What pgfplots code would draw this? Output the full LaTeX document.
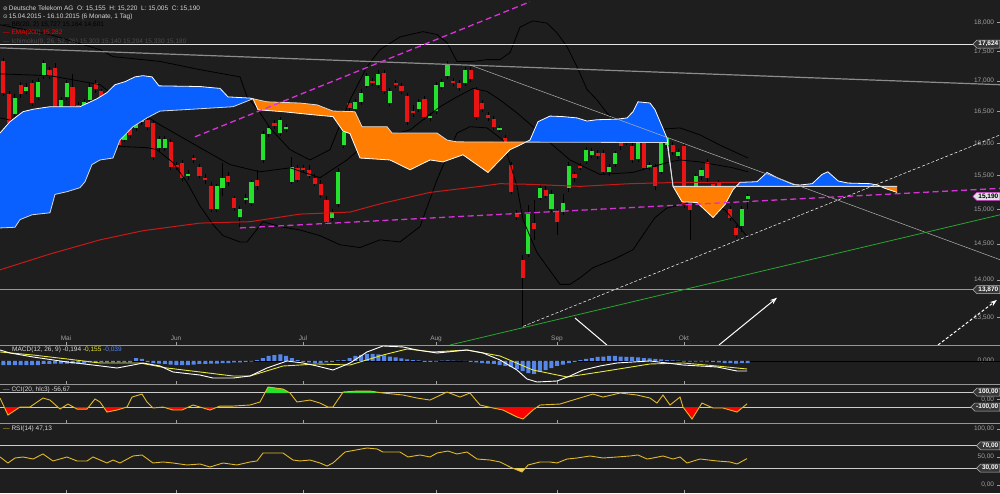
\documentclass[border=0pt]{standalone}
\usepackage{fontspec}
\setmainfont{Liberation Sans}
\newfontfamily\symfont{DejaVu Sans}
\usepackage{pgfplots}
\usepackage{pgfplotstable}
\pgfplotsset{compat=1.18}
\usetikzlibrary{shapes.symbols,arrows.meta}

\definecolor{bg}{RGB}{30,30,30}
\definecolor{cred}{RGB}{235,20,20}
\definecolor{cgreen}{RGB}{35,225,45}
\definecolor{cloudblue}{RGB}{10,95,255}
\definecolor{cloudorange}{RGB}{255,125,0}
\definecolor{emared}{RGB}{200,25,25}
\definecolor{mag}{RGB}{215,50,215}
\definecolor{lblgrey}{RGB}{160,160,160}
\definecolor{sepgrey}{RGB}{150,150,150}
\definecolor{histblue}{RGB}{85,135,235}
\definecolor{gold}{RGB}{225,185,40}
\definecolor{sigyellow}{RGB}{230,230,60}
\definecolor{hdr}{RGB}{215,215,215}
\definecolor{trendgreen}{RGB}{40,165,50}

\pgfplotstableread{
k o h l c
0 17.33 17.39 16.76 16.81
1 16.78 16.83 16.27 16.32
2 16.46 16.78 16.42 16.72
3 16.94 16.99 16.72 16.78
4 16.83 16.96 16.78 16.91
5 16.97 17.02 16.59 16.64
6 16.73 17.05 16.69 16.99
7 17.09 17.36 17.04 17.31
8 17.19 17.24 17.04 17.09
9 17.22 17.31 16.53 16.58
10 16.53 16.74 16.48 16.69
11 16.73 17.02 16.69 16.97
12 16.91 17.11 16.54 16.59
13 16.61 16.66 16.40 16.45
14 16.50 16.71 16.45 16.66
15 16.69 16.96 16.64 16.91
16 16.97 17.02 16.81 16.86
17 16.83 16.86 16.53 16.56
18 16.53 16.56 16.24 16.29
19 16.29 16.34 16.10 16.13
20 16.05 16.10 15.93 15.97
21 16.05 16.26 16.02 16.21
22 16.29 16.34 16.08 16.13
23 16.24 16.42 16.19 16.37
24 16.34 16.50 16.29 16.45
25 16.37 16.42 16.21 16.26
26 16.32 16.37 15.74 15.79
27 15.92 16.12 15.87 16.07
28 15.93 16.12 15.88 16.07
29 16.02 16.07 15.59 15.64
30 15.67 15.71 15.59 15.64
31 15.70 15.74 15.41 15.46
32 15.49 15.58 15.44 15.53
33 15.77 15.82 15.70 15.74
34 15.64 15.68 15.46 15.50
35 15.47 15.52 15.38 15.43
36 15.35 15.40 14.96 15.01
37 15.01 15.38 14.96 15.34
38 15.31 15.70 15.19 15.46
39 15.50 15.55 15.35 15.40
40 15.16 15.20 14.98 15.02
41 14.89 15.05 14.74 15.01
42 15.13 15.22 15.08 15.17
43 15.10 15.44 15.05 15.40
44 15.44 15.59 15.29 15.34
45 15.74 16.19 15.70 16.15
46 16.15 16.29 16.10 16.24
47 16.32 16.37 16.23 16.27
48 16.16 16.42 16.12 16.37
49 16.23 16.31 16.18 16.26
50 15.41 15.79 15.37 15.64
51 15.62 15.67 15.40 15.44
52 15.62 15.67 15.55 15.59
53 15.58 15.67 15.46 15.50
54 15.47 15.52 15.34 15.38
55 15.38 15.43 15.17 15.21
56 15.14 15.19 14.77 14.82
57 14.88 15.01 14.83 14.96
58 15.08 15.62 15.04 15.56
59 15.97 16.23 15.93 16.18
60 16.64 16.69 16.51 16.56
61 16.54 16.71 16.50 16.66
62 16.66 16.86 16.61 16.81
63 16.92 17.14 16.88 17.09
64 17.00 17.05 16.92 16.97
65 16.94 17.19 16.89 17.11
66 17.14 17.19 16.79 16.84
67 16.64 16.88 16.59 16.83
68 16.97 17.02 16.89 16.94
69 16.92 16.97 16.79 16.84
70 16.76 16.81 16.29 16.34
71 16.51 16.61 16.42 16.48
72 16.54 16.71 16.50 16.66
73 16.71 16.76 16.37 16.42
74 16.40 16.48 16.35 16.43
75 16.51 16.99 16.46 16.94
76 16.91 17.04 16.86 16.99
77 17.09 17.33 17.04 17.28
78 17.00 17.05 16.92 16.97
79 16.97 17.02 16.83 16.88
80 16.97 17.24 16.92 17.19
81 17.19 17.24 16.99 17.04
82 16.86 16.91 16.37 16.42
83 16.64 16.69 16.50 16.54
84 16.45 16.50 16.35 16.40
85 16.39 16.43 16.21 16.26
86 16.21 16.27 16.18 16.24
87 16.08 16.13 15.88 15.93
88 15.67 15.71 15.22 15.26
89 14.94 14.99 14.85 14.89
90 14.28 14.35 13.38 14.03
91 14.36 15.07 14.32 14.93
92 14.80 15.14 14.56 14.71
93 15.17 15.37 15.13 15.32
94 15.29 15.34 15.16 15.20
95 15.01 15.29 14.96 15.23
96 14.96 15.01 14.63 14.82
97 14.96 15.22 14.92 15.10
98 15.31 15.71 15.26 15.65
99 15.52 15.56 15.41 15.46
100 15.65 15.70 15.58 15.62
101 15.73 15.94 15.68 15.90
102 15.82 15.93 15.77 15.88
103 15.85 15.90 15.76 15.80
104 15.85 15.90 15.52 15.56
105 15.55 15.68 15.50 15.64
106 15.68 15.88 15.64 15.84
107 16.00 16.04 15.90 15.95
108 16.02 16.21 15.97 16.16
109 15.95 16.00 15.70 15.74
110 15.76 16.04 15.71 16.00
111 16.00 16.04 15.58 15.62
112 15.62 15.71 15.58 15.67
113 15.64 15.68 15.29 15.34
114 15.56 16.05 15.52 16.01
115 15.97 16.13 15.93 16.08
116 15.97 16.02 15.82 15.87
117 15.80 15.91 15.76 15.87
118 15.96 16.01 15.02 15.07
119 15.10 15.14 14.56 14.99
120 15.34 15.53 15.29 15.49
121 15.49 15.62 15.44 15.58
122 15.71 15.76 15.41 15.46
123 15.37 15.41 15.20 15.25
124 15.40 15.44 15.29 15.34
125 15.17 15.22 15.05 15.10
126 15.01 15.05 14.83 14.88
127 14.73 14.77 14.59 14.63
128 14.76 15.05 14.67 15.01
129 15.155 15.22 15.005 15.19
}\candles

% Ichimoku: span A
\pgfplotstableread{
k p
-0.57 16.16
1.16 16.34
3.41 16.50
5.15 16.54
8.09 16.58
13.29 16.58
16.24 16.71
17.97 16.81
19.36 16.94
21.09 16.99
22.82 17.07
24.21 17.09
25.77 17.07
26.98 16.92
34.09 16.91
36.34 16.89
37.56 16.88
38.94 16.74
42.76 16.72
43.28 16.71
44.14 16.53
48.48 16.50
53.68 16.45
57.14 16.42
58.88 16.19
60.09 16.15
61.82 15.77
67.02 15.74
70.49 15.59
73.95 15.74
76.21 15.71
79.67 15.82
84.00 15.55
87.82 15.90
89.03 15.95
91.28 16.05
92.67 16.34
94.75 16.43
97.00 16.42
99.43 16.40
101.16 16.35
102.90 16.37
106.36 16.38
108.10 16.40
109.13 16.50
110.00 16.66
112.08 16.64
112.95 16.53
115.03 16.08
116.07 15.34
117.63 15.11
120.23 15.10
123.00 14.88
125.08 15.07
126.47 15.29
127.68 15.40
130.63 15.41
132.36 15.55
134.10 15.47
136.86 15.37
138.08 15.36
140.20 15.38
141.90 15.52
142.90 15.56
144.70 15.42
146.40 15.39
150.20 15.38
151.50 15.36
152.80 15.31
154.90 15.25
}\spanA

% Ichimoku: span B
\pgfplotstableread{
k p
-0.57 14.73
2.03 14.74
2.89 14.85
4.97 14.92
8.09 14.95
8.96 15.22
11.04 15.26
13.29 15.32
14.16 15.41
15.37 15.67
16.76 15.74
19.01 15.77
20.22 16.05
22.48 16.26
24.90 16.40
27.16 16.51
31.15 16.53
39.81 16.58
43.28 16.71
45.70 16.66
51.42 16.64
54.37 16.61
57.14 16.51
60.95 16.50
62.17 16.26
66.50 16.26
67.37 16.16
75.17 16.16
76.90 16.05
78.63 16.02
115.03 16.01
116.07 15.34
154.90 15.34
}\spanB

% cloud outline: span A forward, then span B backward
\pgfplotstableread{
k p
-0.57 16.16
1.16 16.34
3.41 16.50
5.15 16.54
8.09 16.58
13.29 16.58
16.24 16.71
17.97 16.81
19.36 16.94
21.09 16.99
22.82 17.07
24.21 17.09
25.77 17.07
26.98 16.92
34.09 16.91
36.34 16.89
37.56 16.88
38.94 16.74
42.76 16.72
43.28 16.71
44.14 16.53
48.48 16.50
53.68 16.45
57.14 16.42
58.88 16.19
60.09 16.15
61.82 15.77
67.02 15.74
70.49 15.59
73.95 15.74
76.21 15.71
79.67 15.82
84.00 15.55
87.82 15.90
89.03 15.95
91.28 16.05
92.67 16.34
94.75 16.43
97.00 16.42
99.43 16.40
101.16 16.35
102.90 16.37
106.36 16.38
108.10 16.40
109.13 16.50
110.00 16.66
112.08 16.64
112.95 16.53
115.03 16.08
116.07 15.34
117.63 15.11
120.23 15.10
123.00 14.88
125.08 15.07
126.47 15.29
127.68 15.40
130.63 15.41
132.36 15.55
134.10 15.47
136.86 15.37
138.08 15.36
140.20 15.38
141.90 15.52
142.90 15.56
144.70 15.42
146.40 15.39
150.20 15.38
151.50 15.36
152.80 15.31
154.90 15.25
154.90 15.34
116.07 15.34
115.03 16.01
78.63 16.02
76.90 16.05
75.17 16.16
67.37 16.16
66.50 16.26
62.17 16.26
60.95 16.50
57.14 16.51
54.37 16.61
51.42 16.64
45.70 16.66
43.28 16.71
39.81 16.58
31.15 16.53
27.16 16.51
24.90 16.40
22.48 16.26
20.22 16.05
19.01 15.77
16.76 15.74
15.37 15.67
14.16 15.41
13.29 15.32
11.04 15.26
8.96 15.22
8.09 14.95
4.97 14.92
2.89 14.85
2.03 14.74
-0.57 14.73
}\cloudpoly

\pgfplotstableread{
k p
-0.57 17.96
8.09 17.79
16.76 17.53
19.01 17.41
27.16 17.33
34.09 17.19
41.02 17.07
42.24 16.74
44.14 16.53
46.22 16.24
49.69 15.90
53.15 15.74
56.62 15.90
60.09 16.69
63.03 17.24
65.29 17.53
68.75 17.75
72.74 17.84
75.17 17.79
76.90 17.65
78.63 17.33
81.40 17.33
83.83 17.36
86.09 17.36
87.82 17.48
89.55 17.92
91.80 18.03
94.22 17.99
95.96 17.82
97.70 17.58
99.43 17.24
101.16 16.86
102.90 16.69
104.60 16.48
106.88 16.29
112.08 16.21
117.28 16.24
120.75 16.13
124.21 15.97
129.07 15.77
}\bbU

\pgfplotstableread{
k p
-0.57 17.12
8.09 17.09
16.76 16.94
20.22 16.69
27.16 16.29
34.09 15.93
39.29 15.67
44.49 15.56
49.69 15.62
54.89 15.47
59.57 15.74
63.55 16.05
70.49 16.21
75.69 16.58
78.63 16.74
81.40 16.88
83.83 16.83
86.09 16.69
89.03 16.48
91.80 16.26
94.22 16.05
98.21 15.74
103.41 15.52
109.13 15.55
115.03 15.70
117.28 15.74
120.75 15.71
126.47 15.62
129.07 15.56
}\bbM

\pgfplotstableread{
k p
-0.57 16.40
8.09 16.24
16.76 16.13
20.22 15.95
24.90 15.93
26.60 15.90
29.41 15.70
31.84 15.40
34.09 15.05
36.34 14.78
38.08 14.62
41.02 14.53
42.24 14.53
45.01 14.82
47.95 14.75
51.42 14.70
54.89 14.62
58.36 14.49
61.82 14.45
65.29 14.56
68.75 14.53
72.22 14.75
75.17 15.44
78.63 16.16
80.88 16.26
83.83 16.24
86.61 16.05
89.03 15.34
90.07 14.85
92.49 14.38
96.48 13.94
98.21 13.94
99.95 14.03
102.20 14.17
105.66 14.28
109.13 14.42
111.21 14.67
112.95 14.88
115.03 15.02
119.01 15.10
122.48 15.10
125.08 14.99
126.81 14.82
129.07 14.59
}\bbL

\pgfplotstableread{
k p
-0.57 14.14
8.09 14.36
16.76 14.56
24.21 14.69
34.09 14.80
42.76 14.82
51.42 14.93
60.09 14.96
65.29 15.08
73.95 15.25
82.62 15.34
86.09 15.38
91.28 15.37
99.95 15.34
108.61 15.38
117.28 15.40
128.55 15.40
}\ema

\pgfplotstableread{
k v
0 -0.078
1 -0.078
2 -0.078
3 -0.078
4 -0.078
5 -0.078
6 -0.078
7 -0.058
8 -0.058
9 -0.049
10 -0.049
11 -0.049
12 -0.049
13 -0.049
14 -0.049
15 -0.029
16 -0.029
17 -0.029
18 -0.029
19 -0.029
20 -0.029
21 -0.029
22 -0.029
23 0.058
24 0.039
25 -0.019
26 -0.039
27 -0.049
28 -0.058
29 -0.068
30 -0.078
31 -0.078
32 -0.078
33 -0.068
34 -0.058
35 -0.058
36 -0.049
37 -0.049
38 -0.039
39 -0.039
40 -0.029
41 -0.029
42 -0.019
43 -0.010
44 0.019
45 0.058
46 0.097
47 0.116
48 0.126
49 0.097
50 0.058
51 0.019
52 -0.019
53 -0.029
54 -0.039
55 -0.039
56 -0.029
57 -0.019
58 0.010
59 0.019
60 0.058
61 0.097
62 0.116
63 0.136
64 0.136
65 0.126
66 0.107
67 0.087
68 0.068
69 0.049
70 0.029
71 0.019
72 0.010
73 -0.019
74 -0.019
75 -0.010
76 0.006
77 0.010
78 0.006
79 0.003
80 -0.003
81 -0.019
82 -0.029
83 -0.039
84 -0.049
85 -0.058
86 -0.078
87 -0.097
88 -0.116
89 -0.155
90 -0.194
91 -0.233
92 -0.252
93 -0.213
94 -0.175
95 -0.136
96 -0.097
97 -0.068
98 -0.039
99 -0.019
100 0.019
101 0.039
102 0.058
103 0.078
104 0.087
105 0.097
106 0.097
107 0.087
108 0.078
109 0.078
110 0.068
111 0.058
112 0.049
113 0.039
114 0.029
115 0.019
116 0.010
117 0.006
118 -0.010
119 -0.010
120 -0.010
121 -0.010
122 -0.010
123 -0.019
124 -0.029
125 -0.039
126 -0.039
127 -0.049
128 -0.039
129 -0.039
}\hist

\pgfplotstableread{
k v
-0.57 20
0.81 -207
2.89 -100
4.62 -100
6.88 20
8.09 -7
9.83 -127
11.21 -60
12.77 -127
14.51 -127
15.89 7
16.76 -33
17.97 -167
19.71 -140
21.44 -100
22.31 33
24.04 73
24.90 -33
25.94 -113
27.68 -100
29.41 -140
30.97 -140
32.88 -73
34.09 -100
35.82 -140
37.56 -87
39.81 -87
42.76 -73
44.49 -33
45.88 167
48.48 140
49.69 87
50.90 -33
53.15 -7
54.89 -47
56.27 -100
57.14 -100
58.88 100
61.30 113
63.55 113
65.80 87
69.27 60
71.70 20
73.95 -7
76.90 100
79.15 33
80.88 87
82.62 -73
84.87 -113
86.61 -140
89.03 -233
90.07 -260
91.80 -140
93.01 -73
96.48 -60
98.73 -7
102.20 73
103.93 33
106.88 87
109.83 60
112.08 20
113.29 -47
114.33 60
115.55 -73
117.28 33
117.80 -100
119.36 -260
121.09 -47
122.99 -113
124.73 -113
127.16 -167
128.90 -57
}\ccidata

\pgfplotstableread{
k v
-0.57 50
0.81 39.3
2.03 48.2
3.41 50
5.15 46.4
6.88 55.4
8.61 42.9
11.04 50
12.77 42.9
14.51 42.9
15.55 50
17.97 39.3
19.01 44.6
20.22 39.3
22.48 51.8
24.04 53.6
25.94 39.3
27.68 41.1
29.41 39.3
31.84 35.7
34.09 37.5
35.82 32.1
38.08 39.3
40.50 35.7
42.76 41.1
43.97 42.9
45.01 57.1
46.22 57.1
48.48 57.1
50.21 44.6
51.42 42.9
53.15 44.6
54.89 39.3
56.10 33.9
57.14 39.3
59.22 58.9
63.03 66.1
64.77 64.3
65.80 58.9
68.75 58.9
70.14 50
72.22 53.6
73.95 50
75.17 57.1
77.07 60.7
78.63 55.4
80.36 58.9
82.10 46.4
84.36 44.6
86.09 41.1
87.82 32.1
89.90 23.2
90.94 35.7
93.01 41.1
94.75 41.1
95.96 39.3
97.70 46.4
99.43 48.2
101.68 51.8
103.93 48.2
106.36 50
108.61 51.8
110.00 53.6
111.56 46.4
112.60 48.2
114.33 51.8
116.07 46.4
117.28 50
118.49 39.3
120.75 46.4
123.69 42.9
125.95 41.1
127.16 37.5
128.90 47.1
}\rsidata

\pgfplotsset{
  panel/.style={
    scale only axis, width=1000pt, anchor=south west,
    xmin=-0.572, xmax=172.74,
    axis x line*=bottom, axis y line*=right,
    x axis line style={draw=sepgrey, line width=0.8pt},
    y axis line style={draw=none},
    xtick={10.87,29.93,51.94,75.0,95.96,117.97},
    tick align=inside, major tick length=3pt,
    tick style={draw=lblgrey, line width=0.6pt},
    yticklabel style={anchor=east, xshift=-2.5pt, font=\fontsize{6.5}{7}\selectfont, text=lblgrey},
    xticklabel style={anchor=base, yshift=4pt, font=\fontsize{6.5}{7}\selectfont, text=lblgrey},
    clip=true,
  },
}
\tikzset{
  pbox/.style={signal, signal to=west, signal from=nowhere, draw={rgb,255:red,185;green,185;blue,185},
    fill={rgb,255:red,55;green,55;blue,55}, text=white, line width=0.5pt,
    font=\fontsize{6.5}{7}\selectfont\bfseries, inner xsep=1.5pt, inner ysep=1.2pt, anchor=east},
  lbl/.style={anchor=west, font=\fontsize{6.5}{7}\selectfont, inner sep=0pt},
}

\begin{document}
\begin{tikzpicture}
\path[use as bounding box] (0,0) rectangle (1000pt,493pt);
\fill[bg] (0,0) rectangle (1000pt,493pt);

% ---------------- main price panel ----------------
\begin{axis}[panel, at={(0pt,148pt)}, height=345pt,
  ymode=log, ymin=13.14, ymax=18.40, yminorticks=false,
  ytick={13.5,14,14.5,15,15.5,16,16.5,17,17.5,18},
  yticklabels={{13,500},{14,000},{14,500},{15,000},{15,500},{16,000},{16,500},{17,000},{17,500},{18,000}},
  xticklabels={Mai,Jun,Jul,Aug,Sep,Okt},
]
% candles
\pgfplotstablegetrowsof{\candles}
\pgfmathtruncatemacro{\lastrow}{\pgfplotsretval-1}
\pgfplotsforeachungrouped \i in {0,...,\lastrow}{%
  \pgfplotstablegetelem{\i}{k}\of\candles\edef\ck{\pgfplotsretval}%
  \pgfplotstablegetelem{\i}{o}\of\candles\edef\co{\pgfplotsretval}%
  \pgfplotstablegetelem{\i}{h}\of\candles\edef\ch{\pgfplotsretval}%
  \pgfplotstablegetelem{\i}{l}\of\candles\edef\cl{\pgfplotsretval}%
  \pgfplotstablegetelem{\i}{c}\of\candles\edef\cc{\pgfplotsretval}%
  \edef\cmd{%
    \noexpand\addplot[black, line width=0.8pt, forget plot] coordinates {(\ck,\cl) (\ck,\ch)};%
    \noexpand\addplot[line width=4.2pt, forget plot, draw=\ifdim\cc pt<\co pt cred\else cgreen\fi] coordinates {(\ck,\co) (\ck,\cc)};%
  }%
  \cmd
}
% Bollinger bands
\addplot[black, line width=0.8pt] table[x=k,y=p]{\bbU};
\addplot[black, line width=0.8pt] table[x=k,y=p]{\bbM};
\addplot[black, line width=0.8pt] table[x=k,y=p]{\bbL};
% EMA 200
\addplot[emared, line width=1pt] table[x=k,y=p]{\ema};
% Ichimoku cloud: same outline, coloured per stretch
\begin{scope}
\clip (axis cs:-1,13) rectangle (axis cs:43.28,19);
\addplot[fill=cloudblue, draw=none] table[x=k,y=p]{\cloudpoly} -- cycle;
\end{scope}
\begin{scope}
\clip (axis cs:43.28,13) rectangle (axis cs:90.5,19);
\addplot[fill=cloudorange, draw=none] table[x=k,y=p]{\cloudpoly} -- cycle;
\end{scope}
\begin{scope}
\clip (axis cs:90.5,13) rectangle (axis cs:116.07,19);
\addplot[fill=cloudblue, draw=none] table[x=k,y=p]{\cloudpoly} -- cycle;
\end{scope}
\begin{scope}
\clip (axis cs:116.07,13) rectangle (axis cs:126.9,19);
\addplot[fill=cloudorange, draw=none] table[x=k,y=p]{\cloudpoly} -- cycle;
\end{scope}
\begin{scope}
\clip (axis cs:126.9,13) rectangle (axis cs:152.3,19);
\addplot[fill=cloudblue, draw=none] table[x=k,y=p]{\cloudpoly} -- cycle;
\end{scope}
\begin{scope}
\clip (axis cs:152.3,13) rectangle (axis cs:156,19);
\addplot[fill=cloudorange, draw=none] table[x=k,y=p]{\cloudpoly} -- cycle;
\end{scope}
\addplot[white, line width=0.8pt] table[x=k,y=p]{\spanA};
\addplot[white!85!black, line width=0.8pt] table[x=k,y=p]{\spanB};
% horizontal and trend lines
\addplot[white!90!black, line width=0.9pt] coordinates {(-0.572,17.624) (172.74,17.624)};
\addplot[white!60!black, line width=0.9pt] coordinates {(-0.572,13.87) (172.74,13.87)};
\addplot[white!55!black, line width=1.2pt] coordinates {(-0.57,17.56) (172.74,16.94)};
\addplot[white!70!black, line width=0.5pt] coordinates {(80.88,17.27) (172.74,14.28)};
\addplot[white, line width=0.5pt, densely dashed] coordinates {(90.07,13.38) (172.74,16.13)};
\addplot[trendgreen, line width=0.8pt] coordinates {(77.42,13.14) (172.74,14.92)};
\addplot[mag, line width=1.3pt, dash pattern=on 6pt off 3.5pt] coordinates {(33.22,16.10) (91.28,18.37)};
\addplot[mag, line width=1.3pt, dash pattern=on 6pt off 3.5pt] coordinates {(41.02,14.73) (172.74,15.31)};
\addplot[white, line width=1pt, -{Stealth[length=7pt,width=5pt]}] coordinates {(124.04,13.14) (134.09,13.76)};
\addplot[white, line width=1pt] coordinates {(99.08,13.49) (104.6,13.14)};
\addplot[white, line width=1pt, dash pattern=on 3pt off 2pt, -{Stealth[length=7pt,width=5pt]}] coordinates {(162.0,13.14) (172.2,13.73)};
% price boxes
\node[pbox] at (axis cs:172.74,17.624) {17,624};
\node[pbox, fill=white!88!black, text=black, draw=mag] at (axis cs:172.74,15.19) {15,190};
\node[pbox] at (axis cs:172.74,13.87) {13,870};
\end{axis}

% ---------------- MACD panel ----------------
\begin{axis}[panel, at={(0pt,109pt)}, height=39pt,
  ymin=-0.446, ymax=0.31, ytick={0}, yticklabels={{0{,}000}}, xticklabels={}]
\addplot[black, line width=0.6pt] coordinates {(-0.572,0) (172.74,0)};
\addplot[ybar, bar width=4pt, fill=histblue, draw=none] table[x=k,y=v]{\hist};
\addplot[sigyellow, line width=0.9pt] coordinates {
(-0.57,0.175) (5.15,0.116) (11.04,0.039) (16.76,-0.039) (23.69,-0.039) (28.37,-0.136)
(34.09,-0.213) (39.81,-0.291) (42.76,-0.291) (48.48,-0.097) (54.37,-0.058) (60.09,-0.078)
(65.8,0.116) (69.97,0.233) (74.47,0.175) (80.36,0.213) (86.09,0.097) (91.8,-0.175)
(97.7,-0.310) (103.41,-0.213) (112.08,-0.058) (117.8,-0.039) (123.69,-0.097) (128.9,-0.155)};
\addplot[white, line width=0.9pt] coordinates {
(-0.57,0.213) (1.16,0.155) (5.15,0.078) (11.04,-0.019) (15.55,-0.078) (19.71,-0.136)
(22.48,-0.078) (24.21,-0.039) (27.16,-0.097) (29.41,-0.213) (34.09,-0.272) (36.34,-0.330)
(39.81,-0.330) (42.76,-0.291) (45.7,-0.136) (49.17,0) (51.94,-0.039) (54.37,-0.097)
(57.14,-0.175) (60.09,-0.039) (63.03,0.175) (65.8,0.291) (69.27,0.272) (71.7,0.213)
(75.17,0.155) (80.36,0.213) (83.14,0.155) (86.09,0.019) (89.03,-0.175) (90.76,-0.349)
(92.49,-0.407) (95.96,-0.388) (98.21,-0.291) (100.47,-0.175) (103.41,-0.097) (106.36,-0.039)
(109.13,-0.019) (112.08,0) (115.03,-0.039) (117.8,-0.078) (120.75,-0.097) (123.69,-0.116)
(127.16,-0.194) (128.9,-0.194)};
\end{axis}

% ---------------- CCI panel ----------------
\begin{axis}[panel, at={(0pt,70pt)}, height=39pt,
  ymin=-313, ymax=207, ytick={0}, yticklabels={{0{,}00}}, xticklabels={}]
\addplot[white!80!black, line width=0.8pt] coordinates {(-0.572,100) (172.74,100)};
\addplot[white!80!black, line width=0.8pt] coordinates {(-0.572,-100) (172.74,-100)};
\begin{scope}
\clip (axis cs:-1,100) rectangle (axis cs:180,400);
\addplot[fill=cgreen, draw=none] table[x=k,y=v]{\ccidata} -- (axis cs:128.9,-400) -- (axis cs:-0.57,-400) -- cycle;
\end{scope}
\begin{scope}
\clip (axis cs:-1,-100) rectangle (axis cs:180,-400);
\addplot[fill=red, draw=none] table[x=k,y=v]{\ccidata} -- (axis cs:128.9,400) -- (axis cs:-0.57,400) -- cycle;
\end{scope}
\addplot[gold, line width=0.9pt] table[x=k,y=v]{\ccidata};
\node[pbox] at (axis cs:172.74,100) {100,00};
\node[pbox] at (axis cs:172.74,-100) {-100,00};
\end{axis}

% ---------------- RSI panel ----------------
\begin{axis}[panel, at={(0pt,0pt)}, height=70pt,
  ymin=-14.3, ymax=110.7, ytick={0,50,100}, yticklabels={{0,00},{50,00},{100,00}}, xticklabels={},
  x axis line style={draw=none}]
\addplot[white!80!black, line width=0.8pt] coordinates {(-0.572,70) (172.74,70)};
\addplot[white!80!black, line width=0.8pt] coordinates {(-0.572,30) (172.74,30)};
\begin{scope}
\clip (axis cs:-1,30) rectangle (axis cs:180,-20);
\addplot[fill=gold!70!white, draw=none] table[x=k,y=v]{\rsidata} -- (axis cs:128.9,120) -- (axis cs:-0.57,120) -- cycle;
\end{scope}
\addplot[gold, line width=0.9pt] table[x=k,y=v]{\rsidata};
\node[pbox] at (axis cs:172.74,70) {70,00};
\node[pbox] at (axis cs:172.74,30) {30,00};
\end{axis}

% ---------------- header / legends ----------------
\node[lbl, text=hdr] at (3pt,484pt) {{\symfont\fontsize{5.5}{6}\selectfont ⊘}\,Deutsche Telekom AG \ O: 15,155 \ H: 15,220 \ L: 15,005 \ C: 15,190};
\node[lbl, text=hdr] at (3pt,476pt) {{\symfont\fontsize{5.5}{6}\selectfont ⊙}\,15.04.2015 - 16.10.2015 (6 Monate, 1 Tag)};
\node[lbl, text=black] at (3pt,468pt) {— BB(20, 2) 15,727 15,164 14,601};
\node[lbl, text=red] at (3pt,460pt) {— EMA(200) 15,282};
\node[lbl, text=white!30!black] at (3pt,451pt) {— Ichimoku(9, 26, 52, 26) 15,303 15,140 15,204 15,330 15,180};
\node[lbl, text=hdr] at (12pt,143pt) {MACD(12, 26, 9) -0,194 \textcolor{sigyellow}{-0,155} \textcolor{histblue}{-0,039}};
\node[lbl, text=gold] at (3pt,103pt) {— \textcolor{hdr}{CCI(20, hlc3) -56,67}};
\node[lbl, text=gold] at (3pt,64pt) {— \textcolor{hdr}{RSI(14) 47,13}};
\end{tikzpicture}
\end{document}
